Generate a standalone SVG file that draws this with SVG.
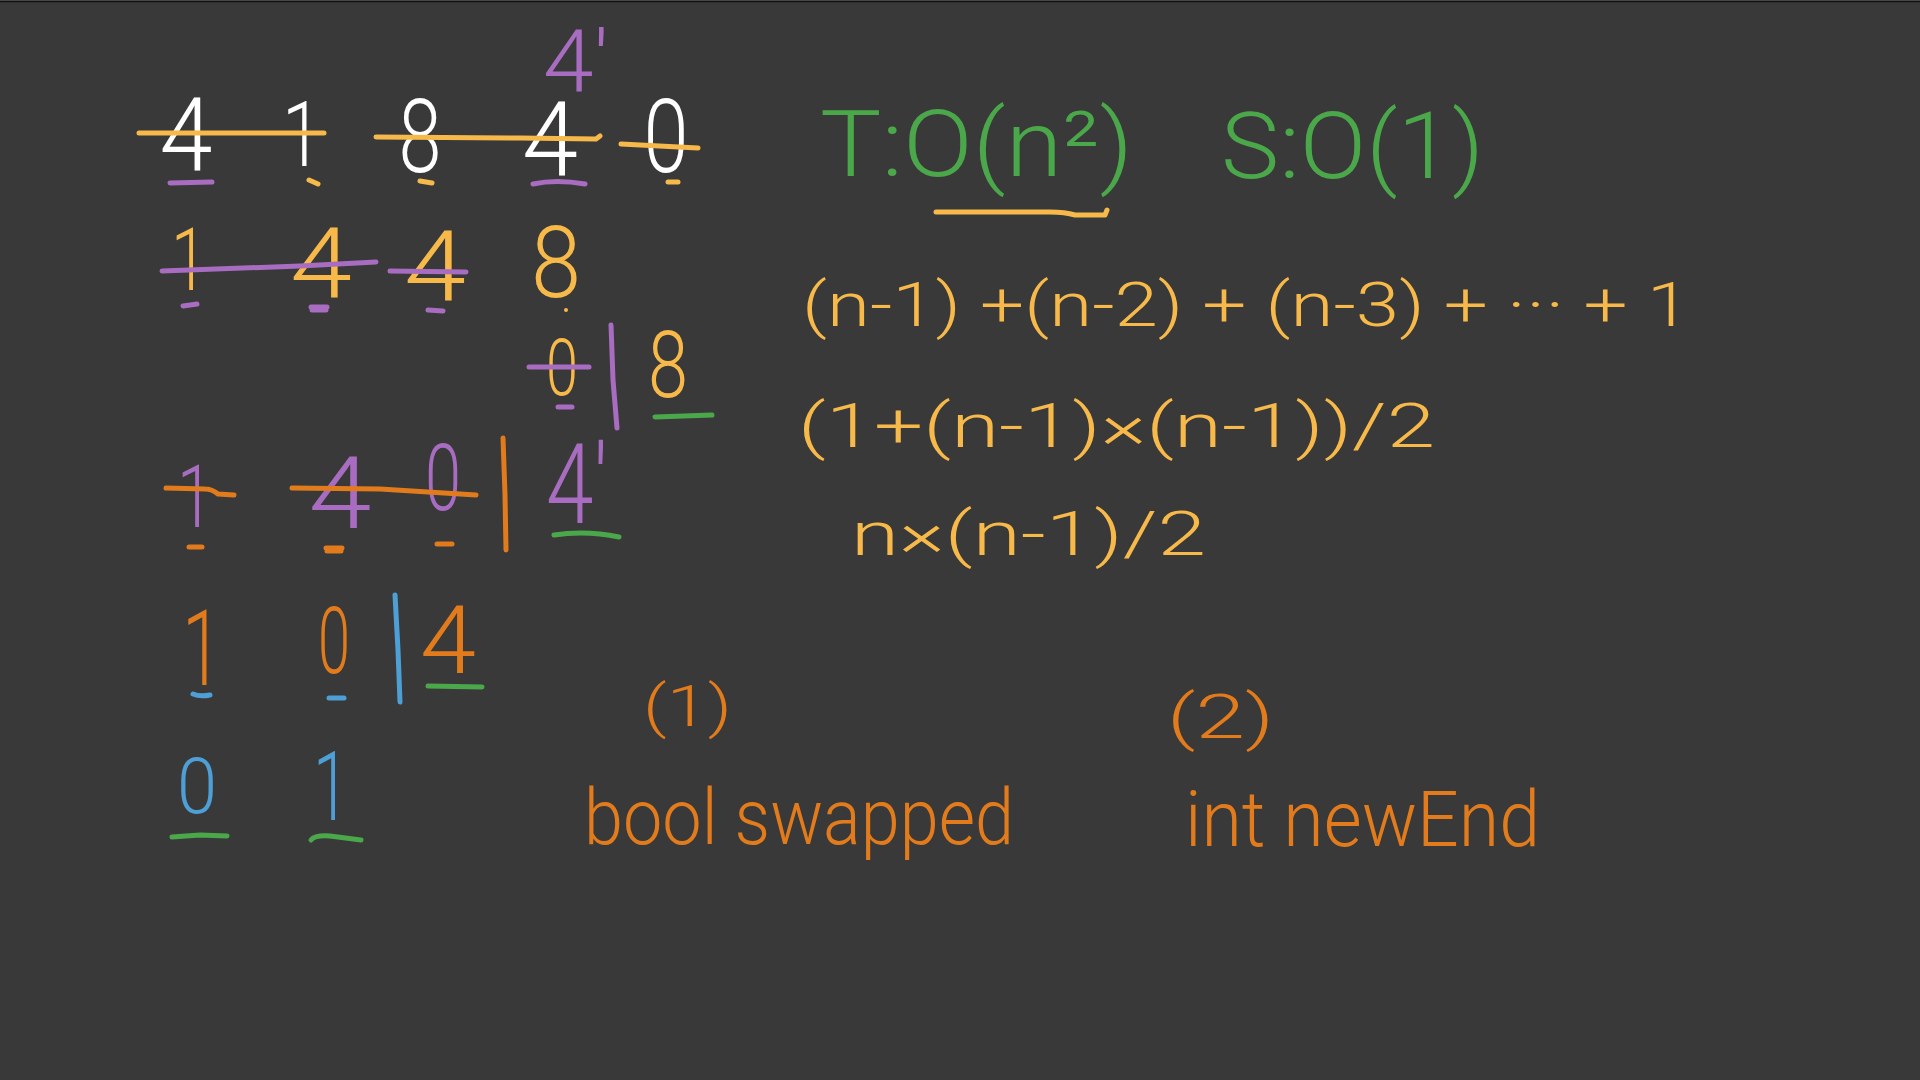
<svg xmlns="http://www.w3.org/2000/svg" width="1920" height="1080" viewBox="0 0 1920 1080">
<style>
text{font-family:Roboto,"Liberation Sans","DejaVu Sans",sans-serif;font-weight:300}
.w{fill:#ffffff}.y{fill:#f6b94a}.p{fill:#a86cc1}.o{fill:#e27b1c}.g{fill:#4aa84a}.b{fill:#4d9fd6}
.mid{text-anchor:middle}
.ln{fill:none;stroke-width:5;stroke-linecap:round;stroke-linejoin:round}
.ly{stroke:#f6b94a}.lp{stroke:#a86cc1}.lo{stroke:#e27b1c}.lg{stroke:#4aa84a}.lb{stroke:#4d9fd6}
</style>
<rect x="0" y="0" width="1920" height="1080" fill="#393939"/>
<line x1="0" y1="0.5" x2="1920" y2="0.5" stroke="#5a5a5a" stroke-width="1"/>
<line x1="0" y1="1.5" x2="1920" y2="1.5" stroke="#111111" stroke-width="1.5"/>

<g id="row1">
  <text class="w mid" x="186" y="170" font-size="102" textLength="53" lengthAdjust="spacingAndGlyphs">4</text>
  <text class="w mid" x="302" y="166" font-size="90" textLength="40" lengthAdjust="spacingAndGlyphs">1</text>
  <text class="w mid" x="420" y="172" font-size="102" textLength="43" lengthAdjust="spacingAndGlyphs">8</text>
  <text class="w mid" x="550" y="176" font-size="104" textLength="56" lengthAdjust="spacingAndGlyphs">4</text>
  <text class="w mid" x="666" y="172" font-size="102" textLength="45" lengthAdjust="spacingAndGlyphs">0</text>
  <text class="p" x="543" y="92" font-size="88" textLength="66" lengthAdjust="spacingAndGlyphs">4'</text>
  <path class="ln ly" d="M139,133 L324,133"/>
  <path class="ln ly" d="M376,137 L520,138 L596,139 L600,136"/>
  <path class="ln ly" d="M621,144 L698,148"/>
  <path class="ln lp" d="M170,183 L212,182"/>
  <path class="ln ly" d="M309,180 L318,184"/>
  <path class="ln ly" d="M420,181 L432,183"/>
  <path class="ln lp" d="M533,184 Q556,179 585,184"/>
  <path class="ln ly" d="M668,182 L678,182"/>
</g>

<g id="row2">
  <text class="y mid" x="189" y="290" font-size="88" textLength="36" lengthAdjust="spacingAndGlyphs">1</text>
  <text class="y mid" x="321" y="298" font-size="98" textLength="62" lengthAdjust="spacingAndGlyphs">4</text>
  <text class="y mid" x="435" y="301" font-size="98" textLength="62" lengthAdjust="spacingAndGlyphs">4</text>
  <text class="y mid" x="556" y="297" font-size="100" textLength="50" lengthAdjust="spacingAndGlyphs">8</text>
  <path class="ln lp" d="M162,271 L300,266 L376,262"/>
  <path class="ln lp" d="M390,271 L466,272"/>
  <path class="ln lp" d="M183,306 L197,304"/>
  <path class="ln lp" d="M311,307 L327,307 M312,310 L326,310"/>
  <path class="ln lp" d="M428,310 L443,311"/>
  <circle cx="566" cy="310" r="2" fill="#f6b94a"/>
</g>

<g id="row3">
  <text class="y mid" x="562" y="395" font-size="80" textLength="32" lengthAdjust="spacingAndGlyphs">0</text>
  <text class="y mid" x="668" y="397" font-size="92" textLength="40" lengthAdjust="spacingAndGlyphs">8</text>
  <path class="ln lp" d="M529,367 L589,367"/>
  <path class="ln lp" d="M558,407 L572,407"/>
  <path class="ln lp" d="M611,325 L613,380 L617,428"/>
  <path class="ln lg" d="M655,417 L712,415"/>
</g>

<g id="row4">
  <text class="p mid" x="195" y="527" font-size="88" textLength="36" lengthAdjust="spacingAndGlyphs">1</text>
  <text class="p mid" x="340" y="528" font-size="100" textLength="63" lengthAdjust="spacingAndGlyphs">4</text>
  <text class="p mid" x="443" y="510" font-size="93" textLength="36" lengthAdjust="spacingAndGlyphs">0</text>
  <text class="p" x="546" y="523" font-size="112" textLength="62" lengthAdjust="spacingAndGlyphs">4'</text>
  <path class="ln lo" d="M166,488 L205,489 Q212,489 218,494 L234,495"/>
  <path class="ln lo" d="M292,488 L380,489 L476,495"/>
  <path class="ln lo" d="M189,547 L202,547"/>
  <path class="ln lo" d="M326,548 L342,548 M327,551 L341,551"/>
  <path class="ln lo" d="M437,544 L452,544"/>
  <path class="ln lo" d="M503,438 L505,495 L506,550"/>
  <path class="ln lg" d="M554,535 Q586,530 619,537"/>
</g>

<g id="row5">
  <text class="o mid" x="202" y="685" font-size="106" textLength="40" lengthAdjust="spacingAndGlyphs">1</text>
  <text class="o mid" x="334" y="673" font-size="92" textLength="32" lengthAdjust="spacingAndGlyphs">0</text>
  <text class="o mid" x="448" y="673" font-size="95" textLength="56" lengthAdjust="spacingAndGlyphs">4</text>
  <path class="ln lb" d="M193,694 Q200,697 210,695"/>
  <path class="ln lb" d="M329,698 L344,698"/>
  <path class="ln lb" d="M395,595 L398,650 L400,702"/>
  <path class="ln lg" d="M428,686 L482,687"/>
</g>

<g id="row6">
  <text class="b mid" x="197" y="813" font-size="78" textLength="40" lengthAdjust="spacingAndGlyphs">0</text>
  <text class="b mid" x="331" y="820" font-size="96" textLength="36" lengthAdjust="spacingAndGlyphs">1</text>
  <path class="ln lg" d="M172,837 L200,835 L227,836"/>
  <path class="ln lg" d="M311,840 Q315,835 330,836 L361,840"/>
</g>

<g id="complexity">
  <text class="g" x="820" y="176" font-size="92" textLength="313" lengthAdjust="spacingAndGlyphs">T:O(n²)</text>
  <text class="g" x="1221" y="178" font-size="92" textLength="263" lengthAdjust="spacingAndGlyphs">S:O(1)</text>
  <path class="ln ly" d="M936,212 L1050,212 Q1065,212 1075,215 L1105,215 L1107,210"/>
</g>

<g id="formulas">
  <text class="y" x="802" y="326" font-size="62" textLength="888" lengthAdjust="spacingAndGlyphs">(n-1) +(n-2) + (n-3) + ··· + 1</text>
  <text class="y" x="798" y="447" font-size="62" textLength="637" lengthAdjust="spacingAndGlyphs">(1+(n-1)×(n-1))/2</text>
  <text class="y" x="851" y="555" font-size="62" textLength="355" lengthAdjust="spacingAndGlyphs">n×(n-1)/2</text>
</g>

<g id="variables">
  <text class="o" x="643" y="726" font-size="58" textLength="89" lengthAdjust="spacingAndGlyphs">(1)</text>
  <text class="o" x="1167" y="738" font-size="62" textLength="107" lengthAdjust="spacingAndGlyphs">(2)</text>
  <text class="o" x="584" y="844" font-size="78" textLength="430" lengthAdjust="spacingAndGlyphs">bool swapped</text>
  <text class="o" x="1185" y="846" font-size="78" textLength="355" lengthAdjust="spacingAndGlyphs">int newEnd</text>
</g>
</svg>
